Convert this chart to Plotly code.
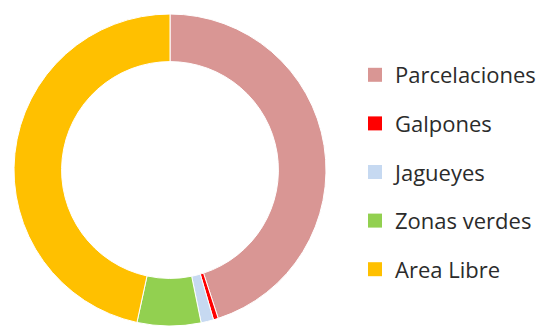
import plotly.graph_objects as go

# Land-use shares (percent of total area)
categories = ["Parcelaciones", "Galpones", "Jagueyes", "Zonas verdes", "Area Libre"]
shares = [45.0, 0.5, 1.3, 6.6, 46.6]
colors = ["#D99694", "#FF0000", "#C6D9F1", "#92D050", "#FFC000"]

fig = go.Figure()

fig.add_trace(go.Pie(
    labels=categories,
    values=shares,
    hole=0.695,
    sort=False,
    direction="clockwise",
    rotation=0,
    marker=dict(colors=colors, line=dict(color="white", width=1)),
    textinfo="none",
    hoverinfo="label+percent",
    showlegend=False,
    domain=dict(x=[14 / 543, 326 / 543], y=[0.0, 0.957]),
))

# Legend entries with square swatches, one group each for roomy spacing
for name, col in zip(categories, colors):
    fig.add_trace(go.Scatter(
        x=[None], y=[None], mode="markers", name=name, legendgroup=name,
        marker=dict(symbol="square", size=14, color=col),
        hoverinfo="skip",
    ))

fig.update_layout(
    width=543, height=326,
    margin=dict(l=0, r=0, t=0, b=0),
    paper_bgcolor="white", plot_bgcolor="white",
    xaxis=dict(visible=False), yaxis=dict(visible=False),
    showlegend=True,
    legend=dict(
        x=355 / 543, xanchor="left",
        y=1 - 54 / 326, yanchor="top",
        font=dict(family="Open Sans, sans-serif", size=22, color="#2b2b2b"),
        tracegroupgap=17,
        itemsizing="trace",
        bgcolor="rgba(0,0,0,0)",
    ),
)

fig.write_html("out.html")
